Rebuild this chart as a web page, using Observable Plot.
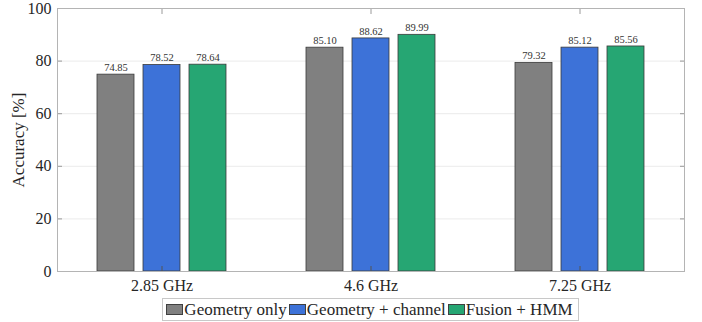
<!DOCTYPE html>
<html>
<head>
<meta charset="utf-8">
<script src="https://cdn.jsdelivr.net/npm/d3@7"></script>
<script src="https://cdn.jsdelivr.net/npm/@observablehq/plot@0.6"></script>
<style>
  body { margin: 0; background: #fff; font-family: "Liberation Serif", serif; }
  #chart { width: 702px; }
  .legend { display: flex; justify-content: center; margin-top: 4px; padding-left: 39px; }
  .legend-box { display: flex; align-items: center; border: 1px solid #c8c8c8; padding: 1px 3px; font-size: 17px; color: #262626; line-height: 19px; }
  .legend-item { display: flex; align-items: center; margin-right: 2px; }
  .sw { width: 17px; height: 11px; border: 1px solid #404040; margin-right: 1px; box-sizing: border-box; }
</style>
</head>
<body>
<div id="chart"></div>
<script>
const frequencies = ["2.85 GHz", "4.6 GHz", "7.25 GHz"];
const series = ["Geometry only", "Geometry + channel", "Fusion + HMM"];
const geometryOnly = [74.85, 85.10, 79.32];
const geometryChannel = [78.52, 88.62, 85.12];
const fusionHMM = [78.64, 89.99, 85.56];
const colors = ["#808080", "#3d72d8", "#26a673"];
const yTicks = [0, 20, 40, 60, 80, 100];

const values = [geometryOnly, geometryChannel, fusionHMM];
const data = [];
frequencies.forEach((f, i) => {
  series.forEach((s, j) => {
    data.push({freq: f, series: s, value: values[j][i]});
  });
});

const font = "Liberation Serif";
const noText = () => "";
const plot = Plot.plot({
  width: 702,
  height: 294,
  marginLeft: 58,
  marginRight: 19,
  marginTop: 8,
  marginBottom: 23,
  style: {fontFamily: font, background: "#fff"},
  fx: {domain: frequencies, paddingInner: 0, paddingOuter: -0.01, label: null, axis: null},
  x: {domain: series, paddingInner: 0.2, paddingOuter: 0.84, axis: null},
  y: {domain: [0, 100], ticks: yTicks},
  color: {domain: series, range: colors},
  marks: [
    Plot.gridY(yTicks, {stroke: "#ebebeb", strokeOpacity: 1}),
    Plot.axisY(yTicks, {anchor: "left", tickSize: -5, tickFormat: noText, label: null, stroke: "#9a9a9a"}),
    Plot.axisY(yTicks, {anchor: "right", tickSize: -5, tickFormat: noText, label: null, stroke: "#9a9a9a"}),
    Plot.barY(data, {fx: "freq", x: "series", y: "value", fill: "series", stroke: "#3a3a3a", strokeWidth: 0.8}),
    Plot.axisFx({anchor: "bottom", tickSize: -5, tickFormat: noText, label: null, stroke: "#555"}),
    Plot.axisFx({anchor: "top", tickSize: -5, tickFormat: noText, label: null, stroke: "#9a9a9a"}),
    Plot.text(data, {fx: "freq", x: "series", y: "value", text: d => d.value.toFixed(2), dy: -7, fontSize: 10.5, fill: "#333", fontFamily: font}),
    Plot.axisY(yTicks, {tickSize: 0, tickPadding: 6, fontSize: 16, fill: "#262626", label: null}),
    Plot.axisY({label: "Accuracy [%]", labelArrow: "none", labelAnchor: "center", labelOffset: 46, fontSize: 17, fill: "#262626", tickSize: 0, tickFormat: noText}),
    Plot.axisFx({anchor: "bottom", tickSize: 0, tickPadding: 8, fontSize: 16, fill: "#262626", label: null}),
    Plot.frame({facet: "super", stroke: "#b4b4b4"})
  ]
});
document.getElementById("chart").appendChild(plot);

const legend = document.createElement("div");
legend.className = "legend";
const box = document.createElement("div");
box.className = "legend-box";
series.forEach((s, i) => {
  const item = document.createElement("div");
  item.className = "legend-item";
  const sw = document.createElement("span");
  sw.className = "sw";
  sw.style.background = colors[i];
  const t = document.createElement("span");
  t.textContent = s;
  item.appendChild(sw);
  item.appendChild(t);
  box.appendChild(item);
});
legend.appendChild(box);
document.getElementById("chart").appendChild(legend);
</script>
</body>
</html>
